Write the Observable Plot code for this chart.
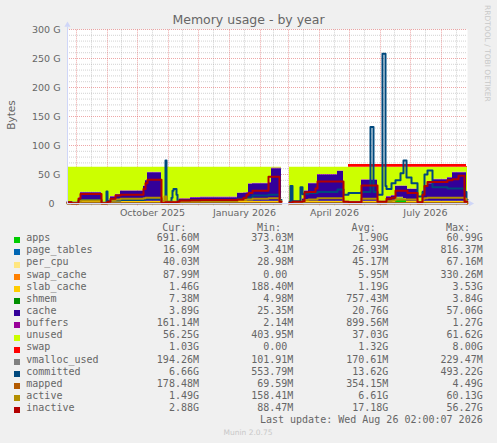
<!DOCTYPE html>
<html><head><meta charset="utf-8">
<script src="https://cdn.jsdelivr.net/npm/d3@7"></script>
<script src="https://cdn.jsdelivr.net/npm/@observablehq/plot@0.6"></script>
<style>
html,body{margin:0;padding:0;background:#f0f0f0;}
#wrap{position:relative;width:497px;height:443px;overflow:hidden;background:#f0f0f0;font-family:"DejaVu Sans",sans-serif;color:#666;}
#chart{position:absolute;left:0;top:0;}
.t{position:absolute;white-space:pre;}
.m{font-family:"DejaVu Sans Mono",monospace;font-size:10px;line-height:12px;height:12px;color:#666;}
.sw{position:absolute;width:6px;height:6px;}
</style></head><body>
<div id="wrap"><div id="chart"></div></div>
<script>
// ---------- data (values in GB) ----------
const dates = [
  "2025-07-23","2025-07-27",
  "2025-08-03","2025-08-05",
  "2025-08-26","2025-08-31",
  "2025-09-01","2025-09-04","2025-09-09","2025-09-14","2025-10-07","2025-10-09","2025-10-11",
  "2025-10-25","2025-10-28","2025-10-29","2025-10-30","2025-11-04","2025-11-05","2025-11-06","2025-11-09","2025-11-10",
  "2025-11-12","2025-11-23","2025-12-03","2026-01-09","2026-01-15","2026-01-18","2026-01-20","2026-01-24","2026-02-09","2026-02-12","2026-02-20","2026-02-22",
  "2026-02-23",
  "2026-03-02","2026-03-03","2026-03-05","2026-03-13",
  "2026-03-15","2026-03-17","2026-03-21","2026-03-28","2026-03-30","2026-04-19",
  "2026-04-25","2026-04-30",
  "2026-05-13","2026-05-22","2026-05-25",
  "2026-05-29","2026-06-03","2026-06-06",
  "2026-06-07","2026-06-12","2026-06-16","2026-06-21","2026-06-24","2026-06-27","2026-06-28","2026-07-02",
  "2026-07-08",
  "2026-07-13","2026-07-15","2026-07-18","2026-07-23","2026-08-07","2026-08-12","2026-08-18","2026-08-24",
  "2026-08-26","2026-08-27"
];
const apps = [0.6,0.6, 1.2,1.2, 0.6,0.6, 1.2,1.2,1.2,1.2,1.2,1.2,1.2, 0.6,0.6,0.6,0.6,0.6,0.6,0.6,0.6,0.6,
  1.2,1.2,1.2,1.2,1.2,1.2,1.2,1.2,1.2,1.2,1.2,1.2, null, 0.6,0.6,0.6,0.6, 1.2,1.2,1.2,1.2,1.2,1.2, 0.6,0.6,
  1.2,1.2,1.2, 0.6,0.6,0.6, 1.2,1.2,8,8,6,1.2,1.2,1.2, 0.6, 1.2,1.2,1.2,1.2,1.2,1.2,1.2,1.2, 0.69,0.69];
const page_tables = [0.02,0.02, 0.02,0.02, 0.02,0.02, 0.02,0.02,0.02,0.02,0.02,0.02,0.02, 0.02,0.02,0.02,0.02,0.02,0.02,0.02,0.02,0.02,
  0.02,0.02,0.02,0.02,0.02,0.02,0.02,0.02,0.02,0.02,0.02,0.02, null, 0.02,0.02,0.02,0.02, 0.02,0.02,0.02,0.02,0.02,0.02, 0.02,0.02,
  0.02,0.02,0.02, 0.02,0.02,0.02, 0.02,0.02,0.02,0.02,0.02,0.02,0.02,0.02, 0.02, 0.02,0.02,0.02,0.02,0.02,0.02,0.02,0.02, 0.017,0.017];
const per_cpu = [0.04,0.04, 0.04,0.04, 0.04,0.04, 0.04,0.04,0.04,0.04,0.04,0.04,0.04, 0.04,0.04,0.04,0.04,0.04,0.04,0.04,0.04,0.04,
  0.04,0.04,0.04,0.04,0.04,0.04,0.04,0.04,0.04,0.04,0.04,0.04, null, 0.04,0.04,0.04,0.04, 0.04,0.04,0.04,0.04,0.04,0.04, 0.04,0.04,
  0.04,0.04,0.04, 0.04,0.04,0.04, 0.04,0.04,0.04,0.04,0.04,0.04,0.04,0.04, 0.04, 0.04,0.04,0.04,0.04,0.04,0.04,0.04,0.04, 0.04,0.04];
const swap_cache = [0,0, 0.01,0.01, 0,0, 0.01,0.01,0.01,0.01,0.01,0.01,0.01, 0,0,0,0,0,0,0,0,0,
  0.01,0.01,0.01,0.01,0.01,0.01,0.01,0.01,0.01,0.01,0.01,0.01, null, 0,0,0,0, 0.01,0.01,0.01,0.01,0.01,0.01, 0,0,
  0.01,0.01,0.01, 0,0,0, 0.01,0.01,0.01,0.01,0.01,0.01,0.01,0.01, 0, 0.01,0.01,0.01,0.01,0.01,0.01,0.01,0.01, 0.088,0.088];
const slab_cache = [1,1, 2,2, 1,1, 2,2,2,2,2,2,2, 1,1,1,1,1,1,1,1,1,
  2,2,2,2,2,2,2,2,2,2,2,2, null, 1,1,1,1, 2,2,2,2,2,2, 1,1,
  2,2,2, 1,1,1, 2,2,2,2,2,2,2,2, 1, 2,2,2,2,2,2,2,2, 1.46,1.46];
const shmem = [0.1,0.1, 0.7,0.7, 0.1,0.1, 0.7,0.7,0.7,0.7,0.7,0.7,0.7, 0.1,0.1,0.1,0.1,0.1,0.1,0.1,0.1,0.1,
  0.7,0.7,0.7,0.7,0.7,0.7,0.7,0.7,0.7,0.7,0.7,0.7, null, 0.1,0.1,0.1,0.1, 0.7,0.7,0.7,0.7,0.7,0.7, 0.1,0.1,
  0.7,0.7,0.7, 0.1,0.1,0.1, 0.7,0.7,0.7,0.7,0.7,0.7,0.7,0.7, 0.1, 0.7,0.7,0.7,0.7,0.7,0.7,0.7,0.7, 0.007,0.007];
const cache = [0.54,0.04, 5.13,14.63, 0.04,1.04, 1.13,7.13,11.13,17.13,25.13,35.13,49.13,
  0.54,2.04,2.04,1.04,2.04,2.04,2.04,2.04,3.04,
  3.13,5.63,6.13,13.13,13.63,14.13,29.13,30.13,31.13,56.13,56.13,56.13, null,
  0.04,0.04,1.04,1.04, 3.13,17.13,30.13,30.13,45.13,51.13, 2.04,2.04,
  36.13,36.13,36.13, 2.04,2.04,2.04, 7.13,9.13,18.33,18.33,20.33,25.13,20.13,20.13, 1.04,
  17.13,25.13,30.13,37.13,40.13,49.13,49.13,49.13, 3.89,3.89];
const buffers = [0.2,0.2, 0.9,0.9, 0.2,0.2, 0.9,0.9,0.9,0.9,0.9,0.9,0.9, 0.2,0.2,0.2,0.2,0.2,0.2,0.2,0.2,0.2,
  0.9,0.9,0.9,0.9,0.9,0.9,0.9,0.9,0.9,0.9,0.9,0.9, null, 0.2,0.2,0.2,0.2, 0.9,0.9,0.9,0.9,0.9,0.9, 0.2,0.2,
  0.9,0.9,0.9, 0.2,0.2,0.2, 0.9,0.9,0.9,0.9,0.9,0.9,0.9,0.9, 0.2, 0.9,0.9,0.9,0.9,0.9,0.9,0.9,0.9, 0.16,0.16];
const unused = [60.1,60.6, 52.6,43.1, 60.6,59.6, 56.6,50.6,46.6,40.6,32.6,22.6,8.6,
  60.1,58.6,58.6,59.6,58.6,58.6,58.6,58.6,57.6,
  54.6,52.1,51.6,44.6,44.1,43.6,28.6,27.6,26.6,1.6,1.6,1.6, null,
  60.6,60.6,59.6,59.6, 54.6,40.6,27.6,27.6,12.6,6.6, 58.6,58.6,
  21.6,21.6,21.6, 58.6,58.6,58.6, 50.6,48.6,32.6,32.6,32.6,32.6,37.6,37.6, 59.6,
  40.6,32.6,27.6,20.6,17.6,8.6,8.6,8.6, 56.25,56.25];
const swap = [0,0, 0,0, 0,0, 0,0,0,0,0,0,0, 0,0,0,0,0,0,0,0,0,
  0,0,0,0,0,0,0,0,0,0,0,0, null, 0,0,0,0, 0,0,0,0,0,0, 0,4.6,
  4.6,4.6,4.6, 4.6,4.6,4.6, 4.6,4.6,4.6,4.6,4.6,4.6,4.6,4.6, 4.6, 4.6,4.6,4.6,4.6,4.6,4.6,4.6,4.6, 1.03,1.03];
const vmalloc_used = [0.17,0.17, 0.17,0.17, 0.17,0.17, 0.17,0.17,0.17,0.17,0.17,0.17,0.17, 0.17,0.17,0.17,0.17,0.17,0.17,0.17,0.17,0.17,
  0.17,0.17,0.17,0.17,0.17,0.17,0.17,0.17,0.17,0.17,0.17,0.17, null, 0.17,0.17,0.17,0.17, 0.17,0.17,0.17,0.17,0.17,0.17, 0.17,0.17,
  0.17,0.17,0.17, 0.17,0.17,0.17, 0.17,0.17,0.17,0.17,0.17,0.17,0.17,0.17, 0.17, 0.17,0.17,0.17,0.17,0.17,0.17,0.17,0.17, 0.194,0.194];
const committed = [2,1.5, 5,6, 1.5,20.7, 4,5,5,6,7,8,8,
  3,4,74,3,10,22,25,15,5,
  5,6,6,8,8,9,10,14,15,15,6,6, null,
  3,30,4,28, 16,17,18,18,20,24, 15,18,
  20,132,20, 15,258,30, 25,35,40,52,74,45,45,35, 12,
  20,50,57,28,26,26,26,20, 6.66,6.66];
const mapped = [0.2,0.2, 0.4,0.4, 0.2,0.2, 0.4,0.4,0.4,0.4,0.4,0.4,0.4, 0.2,0.2,0.2,0.2,0.2,0.2,0.2,0.2,0.2,
  0.4,0.4,0.4,0.4,0.4,0.4,0.4,0.4,0.4,0.4,0.4,0.4, null, 0.2,0.2,0.2,0.2, 0.4,0.4,0.4,0.4,0.4,0.4, 0.2,0.2,
  0.4,0.4,0.4, 0.2,0.2,0.2, 0.4,0.4,0.4,0.4,0.4,0.4,0.4,0.4, 0.2, 0.4,0.4,0.4,0.4,0.4,0.4,0.4,0.4, 0.178,0.178];
const active = [1,0.6, 3,5, 0.6,1, 2,5,7,8,9,10,10,
  4,12,12,2,3,3,3,3,3,
  4,4,4.5,6,6,7,7,8,9,9,4,4, null,
  1,1,1.5,2, 3,6,7,7,9,9, 3,2,
  8,8,8, 3,3,3, 4,5,7,7,7,7,7,7, 2,
  8,9,10,10,10,10,10,8, 1.49,1.49];
const inactive = [2,0.5, 8,16.5, 0.6,1, 3,8,14,15,25,35,41,
  1,1.5,2,2,2,2,2,2,3,
  5,5.5,6,7,10,15,18,22,46,46,3,3, null,
  1.5,1.5,3,3, 4,19.5,20,26,38,38, 3,2,
  31,31,31, 3,3,3, 8,10,22,22,22,22,18,18, 2,
  15,30,37,37,40,42,48,3, 2.88,2.88];

// series names and legend statistics
const stackNames = ["apps","page_tables","per_cpu","swap_cache","slab_cache","shmem","cache","buffers","unused","swap"];
const lineNames = ["vmalloc_used","committed","mapped","active","inactive"];
const curText = ["691.60M","16.69M","40.03M","87.99M","1.46G","7.38M","3.89G","161.14M","56.25G","1.03G","194.26M","6.66G","178.48M","1.49G","2.88G"];
const minText = ["373.03M","3.41M","28.98M","0.00 ","188.40M","4.98M","25.35M","2.14M","403.95M","0.00 ","101.91M","553.79M","69.59M","158.41M","88.47M"];
const avgText = ["1.90G","26.93M","45.17M","5.95M","1.19G","757.43M","20.76G","899.56M","37.03G","1.32G","170.61M","13.62G","354.15M","6.61G","17.18G"];
const maxText = ["60.99G","816.37M","67.16M","330.26M","3.53G","3.84G","57.06G","1.27G","61.62G","8.00G","229.47M","493.22G","4.49G","60.13G","56.27G"];

// axis ticks
const yLabelTicks = [0,50,100,150,200,250,300];
const yMinorTicks = [10,20,30,40,60,70,80,90,110,120,130,140,160,170,180,190,210,220,230,240,260,270,280,290];
const monthStarts = ["2025-08-01","2025-09-01","2025-10-01","2025-11-01","2025-12-01","2026-01-01","2026-02-01","2026-03-01","2026-04-01","2026-05-01","2026-06-01","2026-07-01","2026-08-01"];
const monthMids = ["2025-08-16","2025-09-15","2025-10-16","2025-11-15","2025-12-16","2026-01-16","2026-02-14","2026-03-16","2026-04-16","2026-05-16","2026-06-15","2026-07-16","2026-08-16"];
const xLabelDates = ["2025-10-16","2026-01-16","2026-04-16","2026-07-16"];
const xLabelTexts = ["October 2025","January 2026","April 2026","July 2026"];
const xDomain = ["2025-07-23","2026-08-27"];

// ---------- styles ----------
const seriesColors = ["#00CC00","#0066B3","#FFE680","#FF8000","#FFCC00","#008F00","#330099","#990099","#CCFF00","#FF0000",
                      "#808080","#00487D","#B35A00","#B38F00","#B30000"];

// ---------- build ----------
const stackValues = [apps,page_tables,per_cpu,swap_cache,slab_cache,shmem,cache,buffers,unused,swap];
const lineValues = [vmalloc_used,committed,mapped,active,inactive];
[...stackValues, ...lineValues].forEach((a, k) => {
  if (a.length !== dates.length) throw new Error("length mismatch in series " + k + ": " + a.length + " vs " + dates.length);
});
const D = s => new Date(s + "T00:00:00Z");
const areaRows = [];
const base = dates.map(() => 0);
stackNames.forEach((name, k) => {
  stackValues[k].forEach((v, i) => {
    if (v == null) { areaRows.push({date: D(dates[i]), series: name, y1: NaN, y2: NaN}); return; }
    const y1 = base[i], y2 = y1 + v; base[i] = y2;
    areaRows.push({date: D(dates[i]), series: name, y1, y2});
  });
});
const lineRows = [];
lineNames.forEach((name, k) => {
  lineValues[k].forEach((v, i) => lineRows.push({date: D(dates[i]), series: name, y: v == null ? NaN : v}));
});

const axisCol = "#CFD6F8";
const plot = Plot.plot({
  width: 497, height: 220,
  marginLeft: 67, marginRight: 30, marginTop: 29, marginBottom: 17,
  style: {background: "#f0f0f0", color: "#666", fontFamily: "'DejaVu Sans', sans-serif", fontSize: "9.5px", overflow: "visible"},
  x: {type: "utc", domain: xDomain.map(D)},
  y: {domain: [0, 300]},
  color: {type: "ordinal", domain: [...stackNames, ...lineNames], range: seriesColors},
  marks: [
    Plot.frame({fill: "#ffffff", stroke: "none"}),
    Plot.ruleY(yMinorTicks, {stroke: "#8f8f8f", strokeOpacity: 0.4, strokeDasharray: "1,1"}),
    Plot.ruleX(monthMids.map(D), {stroke: "#8f8f8f", strokeOpacity: 0.4, strokeDasharray: "1,1", y1: -4, y2: 300}),
    Plot.ruleY(yLabelTicks.slice(1), {stroke: "#DE4F4F", strokeOpacity: 0.5, strokeDasharray: "1,1"}),
    Plot.ruleX(monthStarts.map(D), {stroke: "#DE4F4F", strokeOpacity: 0.5, strokeDasharray: "1,1", y1: -4, y2: 300}),
    Plot.areaY(areaRows, {x: "date", y1: "y1", y2: "y2", z: "series", fill: "series", curve: "step-after"}),
    Plot.lineY(lineRows, {x: "date", y: "y", z: "series", stroke: "series", strokeWidth: 2, curve: "step-after"}),
    Plot.ruleY([0], {stroke: axisCol}),
    Plot.ruleX([D(xDomain[0])], {stroke: axisCol, y1: 0, y2: 304}),
    Plot.dot([D(xDomain[1])], {x: d => d, y: 0, symbol: "triangle", r: 2.3, fill: axisCol, stroke: "none", rotate: 90, dx: 3}),
    Plot.dot([D(xDomain[0])], {x: d => d, y: 300, symbol: "triangle", r: 2.3, fill: axisCol, stroke: "none", dy: -4.5}),
    Plot.axisY({ticks: yLabelTicks, tickFormat: d => d === 0 ? "0\u2007" : d + " G", tickSize: 0, tickPadding: 7, label: null}),
    Plot.axisX({ticks: xLabelDates.map(D), tickFormat: (d, i) => xLabelTexts[i], tickSize: 0, tickPadding: 6, label: null})
  ]
});
const wrap = document.getElementById("wrap");
document.getElementById("chart").appendChild(plot);

function addText(txt, css, cls) {
  const el = document.createElement("div");
  el.className = "t" + (cls ? " " + cls : "");
  el.textContent = txt;
  el.style.cssText += css;
  wrap.appendChild(el);
  return el;
}
// title, axis label, watermark
addText("Memory usage - by year", "left:0;width:497px;text-align:center;top:12.2px;font-size:12.5px;line-height:15px;");
addText("Bytes", "left:-19.2px;width:60px;text-align:center;top:109px;font-size:10.5px;line-height:12px;transform:rotate(-90deg);");
addText("RRDTOOL / TOBI OETIKER", "left:482.5px;top:5px;font-size:7.5px;line-height:9px;writing-mode:vertical-rl;color:#c8c8c8;");

// legend
const colEdges = [199, 293.3, 388.3, 482.7];
const headEdges = [186.3, 281, 375.7, 470];
["Cur:","Min:","Avg:","Max:"].forEach((h, j) => addText(h, `right:${497 - headEdges[j]}px;top:222.2px;`, "m"));
const allNames = [...stackNames, ...lineNames];
allNames.forEach((name, i) => {
  const bl = 241.6 + 12.15 * i;
  const sw = document.createElement("div");
  sw.className = "sw";
  sw.style.left = "14px"; sw.style.top = (bl - 4.3) + "px"; sw.style.background = seriesColors[i];
  wrap.appendChild(sw);
  const top = bl - 9.46;
  addText(name, `left:26.3px;top:${top}px;`, "m");
  [curText, minText, avgText, maxText].forEach((col, j) => addText(col[i], `right:${497 - colEdges[j]}px;top:${top}px;`, "m"));
});
addText("Last update: Wed Aug 26 02:00:07 2026", `right:${497 - 482.7}px;top:414px;`, "m");
addText("Munin 2.0.75", "left:0;width:496px;text-align:center;top:427.9px;font-size:7.5px;line-height:9px;color:#c8c8c8;");
</script></body></html>
